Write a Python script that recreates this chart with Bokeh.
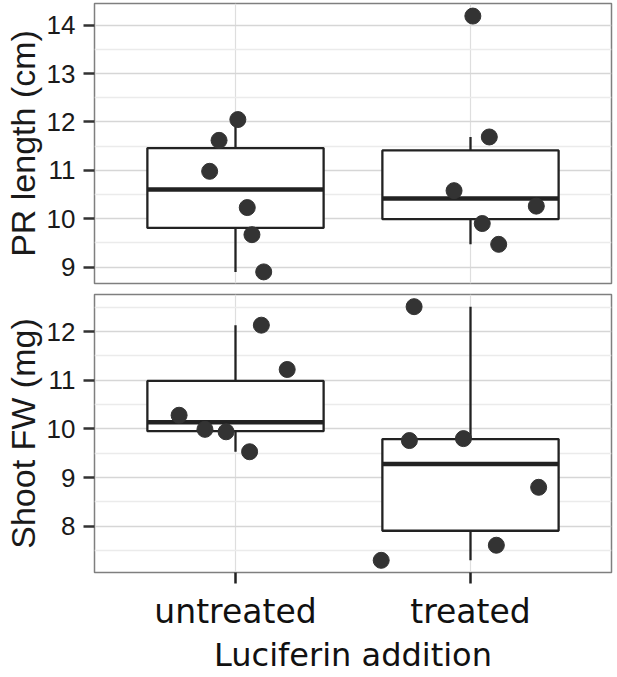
import numpy as np
from bokeh.plotting import figure
from bokeh.layouts import column
from bokeh.models import Range1d, FixedTicker
from bokeh.embed import file_html
from bokeh.resources import INLINE

# ---- data ----
groups = ["untreated", "treated"]
group_pos = [1, 2]

pr_untreated = [12.05, 11.62, 10.98, 10.23, 9.67, 8.90]
pr_untreated_jit = [0.01, -0.07, -0.11, 0.05, 0.07, 0.12]
pr_treated = [14.19, 11.69, 10.58, 10.26, 9.90, 9.47]
pr_treated_jit = [0.01, 0.08, -0.07, 0.28, 0.05, 0.12]

fw_untreated = [12.13, 11.22, 10.28, 9.99, 9.94, 9.53]
fw_untreated_jit = [0.11, 0.22, -0.24, -0.13, -0.04, 0.06]
fw_treated = [12.51, 9.76, 9.80, 8.80, 7.61, 7.30]
fw_treated_jit = [-0.24, -0.26, -0.03, 0.29, 0.11, -0.38]

pr_ticks = [9, 10, 11, 12, 13, 14]
pr_minor = [9.5, 10.5, 11.5, 12.5, 13.5]
fw_ticks = [8, 9, 10, 11, 12]
fw_minor = [7.5, 8.5, 9.5, 10.5, 11.5, 12.5]

LINE = "#222222"
PT = "#333333"


def box_stats(v):
    a = np.asarray(v, dtype=float)
    q1, med, q3 = np.percentile(a, [25, 50, 75])
    iqr = q3 - q1
    lo = a[a >= q1 - 1.5 * iqr].min()
    hi = a[a <= q3 + 1.5 * iqr].max()
    return q1, med, q3, lo, hi


def panel(ylabel, yr, ticks, minor, series, jitters, bottom):
    p = figure(output_backend="svg", toolbar_location=None,
               frame_width=517, frame_height=(278 if bottom else 280),
               x_range=Range1d(0.4, 2.6), y_range=Range1d(*yr),
               min_border_left=87, min_border_right=3,
               min_border_top=(6 if bottom else 3),
               min_border_bottom=(97 if bottom else 5))
    p.background_fill_color = "white"
    p.border_fill_color = "white"
    p.outline_line_color = "#7f7f7f"
    p.outline_line_width = 1.5

    # grid
    p.xgrid.ticker = FixedTicker(ticks=group_pos)
    p.xgrid.grid_line_color = "#dedede"
    p.xgrid.grid_line_width = 1.2
    p.ygrid.ticker = FixedTicker(ticks=ticks, minor_ticks=minor)
    p.ygrid.grid_line_color = "#d6d6d6"
    p.ygrid.grid_line_width = 1.3
    p.ygrid.minor_grid_line_color = "#ebebeb"
    p.ygrid.minor_grid_line_width = 1.3

    # y axis
    ya = p.yaxis[0]
    ya.ticker = FixedTicker(ticks=ticks, minor_ticks=[])
    ya.axis_line_color = None
    ya.major_tick_line_color = "#333333"
    ya.major_tick_line_width = 2.5
    ya.major_tick_out = 11
    ya.major_tick_in = 0
    ya.minor_tick_line_color = None
    ya.major_label_text_font = "Liberation Sans"
    ya.major_label_text_font_size = "26px"
    ya.major_label_text_color = "#1a1a1a"
    ya.major_label_standoff = 8
    ya.axis_label = ylabel
    ya.axis_label_text_font = "Liberation Sans"
    ya.axis_label_text_font_size = "34px"
    ya.axis_label_text_font_style = "normal"
    ya.axis_label_text_color = "#1a1a1a"
    ya.axis_label_standoff = 2

    # x axis
    xa = p.xaxis[0]
    if bottom:
        xa.ticker = FixedTicker(ticks=group_pos, minor_ticks=[])
        xa.major_label_overrides = {pos: g for pos, g in zip(group_pos, groups)}
        xa.axis_line_color = None
        xa.major_tick_line_color = "#222222"
        xa.major_tick_line_width = 2.5
        xa.major_tick_out = 11
        xa.major_tick_in = 0
        xa.minor_tick_line_color = None
        xa.major_label_text_font = "DejaVu Sans"
        xa.major_label_text_font_size = "33px"
        xa.major_label_text_color = "#111111"
        xa.major_label_standoff = 8
        xa.axis_label = "Luciferin addition"
        xa.axis_label_text_font = "DejaVu Sans"
        xa.axis_label_text_font_size = "32px"
        xa.axis_label_text_font_style = "normal"
        xa.axis_label_text_color = "#111111"
        xa.axis_label_standoff = 2
    else:
        xa.visible = False

    # boxes
    for pos, vals in zip(group_pos, series):
        q1, med, q3, lo, hi = box_stats(vals)
        p.segment(x0=[pos, pos], y0=[q3, q1], x1=[pos, pos], y1=[hi, lo],
                  line_color=LINE, line_width=2.3)
        p.quad(left=[pos - 0.375], right=[pos + 0.375], top=[q3], bottom=[q1],
               fill_color="white", line_color=LINE, line_width=2.3)
        p.segment(x0=[pos - 0.375], y0=[med], x1=[pos + 0.375], y1=[med],
                  line_color=LINE, line_width=4.5)
    for pos, vals, jit in zip(group_pos, series, jitters):
        xs = [pos + j for j in jit]
        p.scatter(xs, vals, size=16, fill_color=PT, line_color=PT)
    return p


top = panel("PR length (cm)", (8.66, 14.45), pr_ticks, pr_minor,
            [pr_untreated, pr_treated], [pr_untreated_jit, pr_treated_jit], False)
bot = panel("Shoot FW (mg)", (7.05, 12.76), fw_ticks, fw_minor,
            [fw_untreated, fw_treated], [fw_untreated_jit, fw_treated_jit], True)

layout = column(top, bot, spacing=0)
open("out.html", "w").write(file_html(layout, INLINE))
